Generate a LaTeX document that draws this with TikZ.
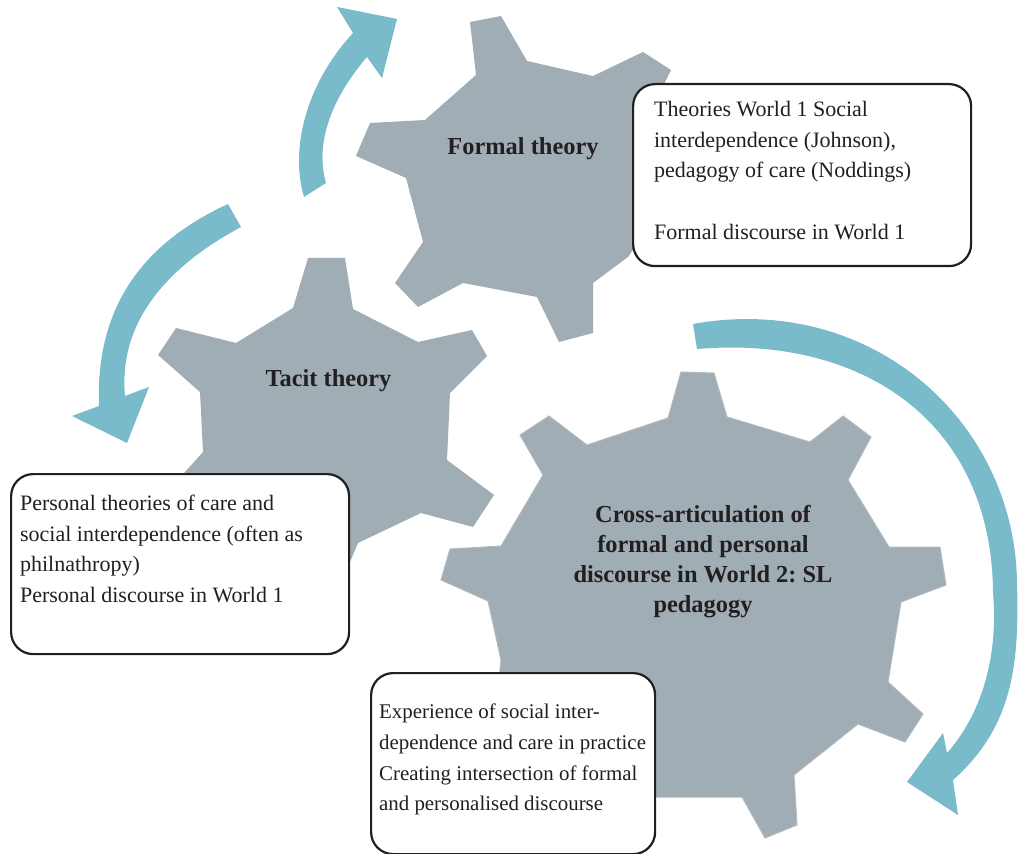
\documentclass[tikz,border=0pt]{standalone}
\usepackage{fontspec}
\setmainfont{Liberation Serif}
\usepackage{tikz}
\frenchspacing
\definecolor{gearcol}{RGB}{160,173,180}
\definecolor{gearedge}{RGB}{178,186,191}
\definecolor{arrowcol}{RGB}{121,186,203}
\definecolor{inkcol}{RGB}{35,31,32}
\tikzstyle{gear} = [fill = gearcol]
\tikzstyle{turnarrow} = [fill = arrowcol]
\tikzstyle{gearlabel} = [inner sep = 0pt, text = inkcol, font = \fontsize{12.2}{15}\selectfont\bfseries]
\tikzstyle{infobox} = [draw = inkcol, line width = 1.1pt, rectangle, rounded corners = 11pt, fill = white, anchor = north west, text = inkcol]

\begin{document}
\begin{tikzpicture}[x = 0.5pt, y = -0.5pt]
	
	\useasboundingbox (0,0) rectangle (1020,854);
	
	% Turning arrows
	\fill[turnarrow] (304,197) .. controls (290,150) and (305,85) .. (353,33)
	-- (337,7) -- (397,19) -- (382,78) -- (367,57)
	.. controls (330,100) and (315,145) .. (326,183) -- cycle;
	\fill[turnarrow] (228,204) .. controls (150,240) and (95,300) .. (99,406)
	-- (72,416) -- (127,443) -- (149,387) -- (125,396)
	.. controls (118,320) and (170,265) .. (241,227) -- cycle;
	\fill[turnarrow] (693,324) .. controls (870,292) and (1015,420) .. (1017,583)
	.. controls (1019,660) and (1015,725) .. (953,780)
	-- (958,815) -- (907,782) -- (943,733) -- (947,753)
	.. controls (985,710) and (998,650) .. (993,593)
	.. controls (992,420) and (860,335) .. (697,349) -- cycle;
	
	% Formal theory gear
	\fill[gear] (470,22) -- (501,16) -- (527,61) -- (593,76) -- (643,52) -- (671,70)
	-- (652,108) -- (700,150) -- (712,200) -- (640,240) -- (628,257) -- (593,283)
	-- (593,333) -- (559,342) -- (537,297) -- (463,283) -- (418,307) -- (395,283)
	-- (423,242) -- (406,178) -- (356,156) -- (370,123) -- (425,120) -- (476,75) -- cycle;
	\node[gearlabel, anchor = base] (formal) at (523,155) {Formal theory};
	
	% Tacit theory gear
	\fill[gear] (308,258) -- (345,258) -- (353,309) -- (418,342) -- (472,330) -- (487,356)
	-- (450,393) -- (447,460) -- (494,495) -- (473,527) -- (421,513) -- (358,543)
	-- (340,585) -- (330,625) -- (290,625) -- (285,580) -- (225,555) -- (165,530)
	-- (168,490) -- (185,472) -- (203,452) -- (200,392) -- (158,355) -- (176,328)
	-- (236,343) -- (293,308) -- cycle;
	\node[gearlabel, anchor = base] (tacit) at (328.5,387) {Tacit theory};
	
	% Cross-articulation gear
	\fill[gear, draw = gearedge, line width = 0.5pt] (681,372) -- (714,373) -- (727,417)
	-- (810,442) -- (843,416) -- (871,437) -- (848,480) -- (889,547) -- (940,547)
	-- (946,585) -- (901,602) -- (888,682) -- (923,714) -- (905,742) -- (858,724)
	-- (794,775) -- (797,825) -- (765,838) -- (742,797) -- (650,797) -- (635,840)
	-- (598,840) -- (596,790) -- (530,750) -- (490,745) -- (478,712) -- (498,690)
	-- (501,660) -- (488,601) -- (441,580) -- (450,549) -- (501,546) -- (543,475)
	-- (520,435) -- (549,416) -- (587,445) -- (668,418) -- cycle;
	\node[gearlabel, align = center] (cross) at (703,562)
	{Cross-articulation of\\ formal and personal\\ discourse in World 2: SL\\ pedagogy};
	
	% Text boxes
	\node[infobox, inner xsep = 10.5pt, inner ysep = 8.5pt, font = \fontsize{11}{15.35}\selectfont]
	(formalbox) at (632,83) {\parbox[t][74pt][t]{148pt}{\raggedright
		Theories World 1 Social\\ interdependence (Johnson),\\ pedagogy of care (Noddings)\\[15.35pt]
		Formal discourse in World 1}};
	\node[infobox, inner xsep = 4.5pt, inner ysep = 10.5pt, font = \fontsize{11}{15.35}\selectfont]
	(tacitbox) at (10,473) {\parbox[t][69pt][t]{160pt}{\raggedright
		Personal theories of care and\\ social interdependence (often as\\ philnathropy)\\
		Personal discourse in World 1}};
	\node[infobox, inner xsep = 4pt, inner ysep = 15.4pt, font = \fontsize{10.45}{15.35}\selectfont]
	(crossbox) at (370,672) {\parbox[t][59.7pt][t]{134pt}{\raggedright
		Experience of social inter-\\ dependence and care in practice\\ Creating intersection of formal\\
		and personalised discourse}};
	
\end{tikzpicture}
\end{document}
